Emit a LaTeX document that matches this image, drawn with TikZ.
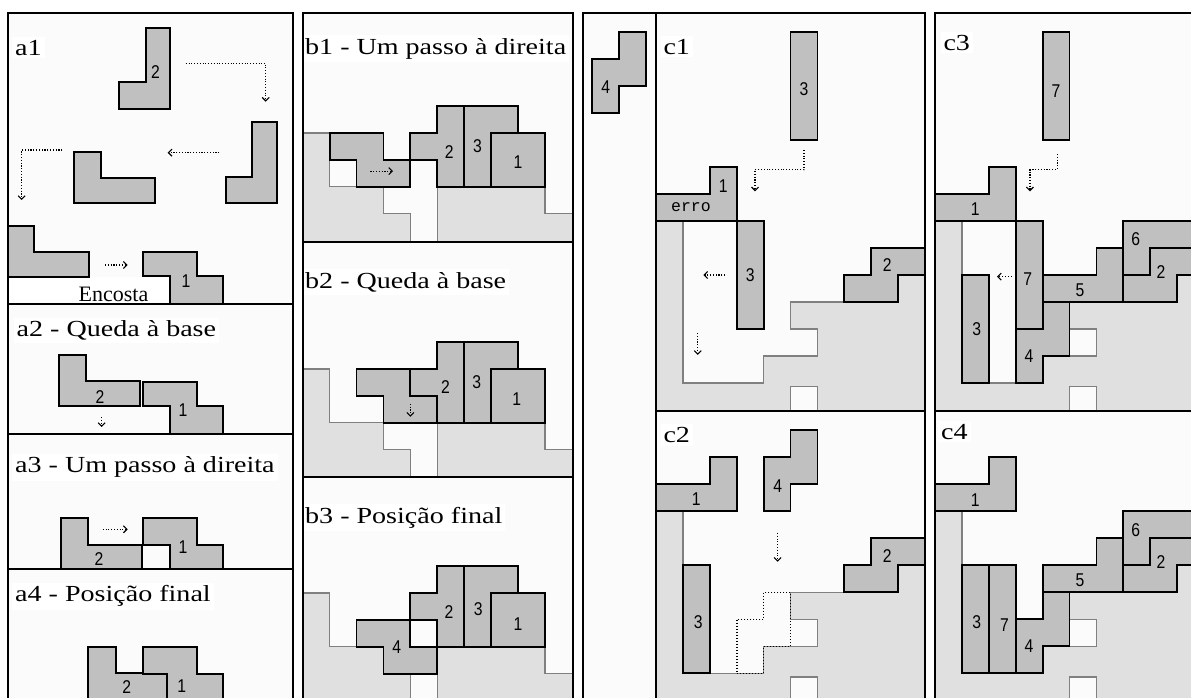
\documentclass[tikz,border=0pt]{standalone}
\usepackage{fontspec}
\setmainfont{Liberation Serif}[FakeStretch=1.22]
\newfontfamily\numfont{Liberation Sans}[FakeStretch=0.85]
\newfontfamily\encfont{Liberation Serif}
\newfontfamily\errofont{Liberation Mono}
\usepackage{tikz}
\usetikzlibrary{arrows.meta}
\definecolor{tilegray}{HTML}{C0C0C0}
\definecolor{groundgray}{HTML}{E0E0E0}
\definecolor{edgegray}{HTML}{808080}
\definecolor{paper}{HTML}{FBFBFB}

\begin{document}
\begin{tikzpicture}[x=1pt,y=-1pt,
  tile/.style={fill=tilegray,draw=black,line width=1.8pt},
  ground/.style={fill=groundgray,draw=edgegray,line width=1.4pt},
  hole/.style={fill=paper,draw=edgegray,line width=1.4pt},
  ghost/.style={draw=black,line width=1.6pt,dash pattern=on 1.4pt off 1.6pt},
  panelline/.style={draw=black,line width=1.8pt},
  trail/.style={draw=black,line width=1.1pt,dash pattern=on 1.1pt off 1.7pt,-{Straight Barb[length=3.5pt,width=7pt]}},
  num/.style={font=\numfont\fontsize{18.5}{18.5}\selectfont,inner sep=0pt},
  ptitle/.style={font=\fontsize{23}{26}\selectfont,fill=white,inner sep=3pt,anchor=base west}]
\useasboundingbox (0,0) rectangle (1191,697);
\clip (0,0) rectangle (1191,697);
\fill[white] (0,0) rectangle (1191,697);
\fill[paper] (8,13) rectangle (293,700);
\fill[paper] (302.7,13) rectangle (572.7,700);
\fill[paper] (583,13) rectangle (925,700);
\fill[paper] (935,13) rectangle (1200,700);

% a1 - rotations
\fill[white] (8,276.5) rectangle (170,304);
\node[font=\encfont\fontsize{22}{22}\selectfont,inner sep=0pt,anchor=base] (enc) at (113.5,301.5) {Encosta};
\path[tile] (145.7,28.3) -- (170,28.3) -- (170,109.3) -- (119,109.3) -- (119,81.7) -- (145.7,81.7) -- cycle;
\node[num] (a1n2) at (155.5,71.7) {2};
\path[tile] (251.7,122.3) -- (276.7,122.3) -- (276.7,203.3) -- (226,203.3) -- (226,176.7) -- (251.7,176.7) -- cycle;
\path[tile] (74,152.3) -- (100.7,152.3) -- (100.7,178.3) -- (155,178.3) -- (155,203.3) -- (74,203.3) -- cycle;
\path[tile] (8,225.7) -- (34.3,225.7) -- (34.3,251.7) -- (89.3,251.7) -- (89.3,276.7) -- (8,276.7) -- cycle;
\path[tile] (143.3,251.7) -- (197.3,251.7) -- (197.3,276) -- (222.7,276) -- (222.7,304) -- (170,304) -- (170,276) -- (143.3,276) -- cycle;
\node[num] (a1n1) at (186,281) {1};
\draw[trail] (185.7,63.3) -- (265.7,63.3) -- (265.7,101.7);
\draw[trail] (219.3,152.7) -- (167.7,152.7);
\draw[trail] (62.3,150) -- (21.7,150) -- (21.7,200);
\draw[trail] (105,265) -- (127.7,265);

% a2
\path[tile] (59,355) -- (86,355) -- (86,381) -- (140,381) -- (140,406) -- (59,406) -- cycle;
\node[num] (a2n2) at (100,397) {2};
\draw[trail] (101.7,417) -- (101.7,427);
\path[tile] (143.3,381.7) -- (197.3,381.7) -- (197.3,406) -- (222.7,406) -- (222.7,434) -- (170,434) -- (170,406) -- (143.3,406) -- cycle;
\node[num] (a2n1) at (183,410) {1};

% a3
\path[tile] (61,518.3) -- (87.7,518.3) -- (87.7,545) -- (141.7,545) -- (141.7,569) -- (61,569) -- cycle;
\node[num] (a3n2) at (99,559) {2};
\draw[trail] (102.7,529.3) -- (127.7,529.3);
\path[tile] (143.3,518.3) -- (197.3,518.3) -- (197.3,545) -- (222.7,545) -- (222.7,569) -- (170,569) -- (170,545) -- (143.3,545) -- cycle;
\node[num] (a3n1) at (183,546.7) {1};

% a4
\path[tile] (87.7,647.3) -- (116,647.3) -- (116,673.3) -- (166.7,673.3) -- (166.7,705) -- (87.7,705) -- cycle;
\node[num] (a4n2) at (126.7,687.5) {2};
\path[tile] (143.3,647.3) -- (197.3,647.3) -- (197.3,674) -- (222.7,674) -- (222.7,705) -- (166.7,705) -- (166.7,674) -- (143.3,674) -- cycle;
\node[num] (a4n1) at (181.7,686) {1};

% b1
\begin{scope}[shift={(302.7pt,-240.5pt)},x=26.9pt,y=26.9pt]
\clip (0,-0.06) rectangle (10.04,8.46);
\path[ground] (-0.5,-1) -- (-0.5,4) -- (1,4) -- (1,2) -- (3,2) -- (3,1) -- (4,1) -- (4,-1) -- cycle;
\path[ground] (5,-1) -- (5,2) -- (9,2) -- (9,1) -- (10.5,1) -- (10.5,-1) -- cycle;
\path[tile] (1,4) -- (3,4) -- (3,3) -- (4,3) -- (4,2) -- (2,2) -- (2,3) -- (1,3) -- cycle;
\path[tile] (5,2) -- (6,2) -- (6,5) -- (5,5) -- (5,4) -- (4,4) -- (4,3) -- (5,3) -- cycle;
\path[tile] (6,2) -- (7,2) -- (7,4) -- (8,4) -- (8,5) -- (6,5) -- cycle;
\path[tile] (7,2) rectangle (9,4);
\node[num] (b1n2) at (5.45,3.3) {2};
\node[num] (b1n3) at (6.5,3.5) {3};
\node[num] (b1n1) at (8,2.9) {1};
\draw[trail] (2.52,2.58) -- (3.36,2.58);
\end{scope}

% b2
\begin{scope}[shift={(302.7pt,-476.5pt)},x=26.9pt,y=26.9pt]
\clip (0,-0.02) rectangle (10.04,8.72);
\path[ground] (-0.5,-1) -- (-0.5,4) -- (1,4) -- (1,2) -- (3,2) -- (3,1) -- (4,1) -- (4,-1) -- cycle;
\path[ground] (5,-1) -- (5,2) -- (9,2) -- (9,1) -- (10.5,1) -- (10.5,-1) -- cycle;
\path[tile] (2,4) -- (4,4) -- (4,3) -- (5,3) -- (5,2) -- (3,2) -- (3,3) -- (2,3) -- cycle;
\path[tile] (5,2) -- (6,2) -- (6,5) -- (5,5) -- (5,4) -- (4,4) -- (4,3) -- (5,3) -- cycle;
\path[tile] (6,2) -- (7,2) -- (7,4) -- (8,4) -- (8,5) -- (6,5) -- cycle;
\path[tile] (7,2) rectangle (9,4);
\node[num] (b2n2) at (5.31,3.34) {2};
\node[num] (b2n3) at (6.47,3.5) {3};
\node[num] (b2n1) at (7.96,2.88) {1};
\draw[trail] (4,2.7) -- (4,2.22);
\end{scope}

% b3
\begin{scope}[shift={(302.7pt,-700.5pt)},x=26.9pt,y=26.9pt]
\clip (0,0.13) rectangle (10.04,8.3);
\path[ground] (-0.5,-1) -- (-0.5,4) -- (1,4) -- (1,2) -- (3,2) -- (3,1) -- (4,1) -- (4,-1) -- cycle;
\path[ground] (5,-1) -- (5,2) -- (9,2) -- (9,1) -- (10.5,1) -- (10.5,-1) -- cycle;
\path[tile] (2,3) -- (4,3) -- (4,2) -- (5,2) -- (5,1) -- (3,1) -- (3,2) -- (2,2) -- cycle;
\path[tile] (5,2) -- (6,2) -- (6,5) -- (5,5) -- (5,4) -- (4,4) -- (4,3) -- (5,3) -- cycle;
\path[tile] (6,2) -- (7,2) -- (7,4) -- (8,4) -- (8,5) -- (6,5) -- cycle;
\path[tile] (7,2) rectangle (9,4);
\node[num] (b3n4) at (3.5,2) {4};
\node[num] (b3n2) at (5.44,3.3) {2};
\node[num] (b3n3) at (6.53,3.39) {3};
\node[num] (b3n1) at (8,2.84) {1};
\end{scope}

% next piece
\path[tile] (619.2,32) -- (646.1,32) -- (646.1,86) -- (619.2,86) -- (619.2,113) -- (592.3,113) -- (592.3,59) -- (619.2,59) -- cycle;
\node[num] (s4) at (605.7,87) {4};

% c1
\begin{scope}[shift={(656pt,-410pt)},x=26.9pt,y=27pt]
\clip (0,0) rectangle (10,14.7);
\path[ground] (-0.5,-1) -- (-0.5,7) -- (1,7) -- (1,1) -- (4,1) -- (4,2) -- (6,2) -- (6,3) -- (5,3) -- (5,4) -- (9,4) -- (9,5) -- (10.5,5) -- (10.5,-1) -- cycle;
\path[hole] (5,-1) rectangle (6,0.87);
\path[tile] (5,10) rectangle (6,14);
\node[num] (c1n3a) at (5.5,11.9) {3};
\draw[trail] (5.5,9.63) -- (5.5,8.9) -- (3.68,8.9) -- (3.68,8.1);
\path[tile] (-0.5,7) -- (3,7) -- (3,9) -- (2,9) -- (2,8) -- (-0.5,8) -- cycle;
\node[num] (c1n1) at (2.5,8.3) {1};
\node[font=\errofont\fontsize{16.5}{16.5}\selectfont,inner sep=0pt] (c1err) at (1.3,7.5) {erro};
\path[tile] (3,3) rectangle (4,7);
\node[num] (c1n3b) at (3.5,5) {3};
\draw[trail] (2.57,5) -- (1.76,5);
\draw[trail] (1.55,2.85) -- (1.55,2.04);
\path[tile] (7,4) -- (9,4) -- (9,5) -- (10.5,5) -- (10.5,6) -- (8,6) -- (8,5) -- (7,5) -- cycle;
\node[num] (c1n2) at (8.6,5.37) {2};
\end{scope}

% c2
\begin{scope}[shift={(656pt,-700.3pt)},x=26.9pt,y=27pt]
\clip (0,0) rectangle (10,10.71);
\path[ground] (-0.5,-1) -- (-0.5,7) -- (1,7) -- (1,1) -- (4,1) -- (4,2) -- (6,2) -- (6,3) -- (5,3) -- (5,4) -- (9,4) -- (9,5) -- (10.5,5) -- (10.5,-1) -- cycle;
\path[hole] (5,-1) rectangle (6,0.87);
\path[tile] (-0.5,7) -- (3,7) -- (3,9) -- (2,9) -- (2,8) -- (-0.5,8) -- cycle;
\node[num] (c2n1) at (1.5,7.44) {1};
\path[tile] (4,7) -- (5,7) -- (5,8) -- (6,8) -- (6,10) -- (5,10) -- (5,9) -- (4,9) -- cycle;
\node[num] (c2n4) at (4.53,7.95) {4};
\draw[trail] (4.52,6.2) -- (4.52,5.13);
\path[tile] (7,4) -- (9,4) -- (9,5) -- (10.5,5) -- (10.5,6) -- (8,6) -- (8,5) -- (7,5) -- cycle;
\node[num] (c2n2) at (8.6,5.36) {2};
\path[tile] (1,1) rectangle (2,5);
\node[num] (c2n3) at (1.57,2.91) {3};
\path[ghost] (3,1) -- (4,1) -- (4,2) -- (5,2) -- (5,4) -- (4,4) -- (4,3) -- (3,3) -- cycle;
\end{scope}

% c3
\begin{scope}[shift={(935pt,-410pt)},x=26.9pt,y=27pt]
\clip (0,0) rectangle (10,14.7);
\path[ground] (-0.5,-1) -- (-0.5,7) -- (1,7) -- (1,1) -- (4,1) -- (4,2) -- (6,2) -- (6,3) -- (5,3) -- (5,4) -- (9,4) -- (9,5) -- (10.5,5) -- (10.5,-1) -- cycle;
\path[hole] (5,-1) rectangle (6,0.87);
\path[tile] (4,10) rectangle (5,14);
\node[num] (c3n7a) at (4.5,11.8) {7};
\draw[trail] (4.54,9.48) -- (4.54,8.9) -- (3.53,8.9) -- (3.53,8.1);
\path[tile] (-0.5,7) -- (3,7) -- (3,9) -- (2,9) -- (2,8) -- (-0.5,8) -- cycle;
\node[num] (c3n1) at (1.5,7.44) {1};
\path[tile] (3,3) rectangle (4,7);
\node[num] (c3n7b) at (3.45,4.85) {7};
\path[tile] (1,1) rectangle (2,5);
\node[num] (c3n3) at (1.55,2.99) {3};
\draw[trail] (2.85,4.94) -- (2.3,4.94);
\path[tile] (3,1) -- (4,1) -- (4,2) -- (5,2) -- (5,4) -- (4,4) -- (4,3) -- (3,3) -- cycle;
\node[num] (c3n4) at (3.49,2) {4};
\path[tile] (4,4) -- (7,4) -- (7,6) -- (6,6) -- (6,5) -- (4,5) -- cycle;
\node[num] (c3n5) at (5.39,4.44) {5};
\path[tile] (7,4) -- (9,4) -- (9,5) -- (10.5,5) -- (10.5,6) -- (8,6) -- (8,5) -- (7,5) -- cycle;
\node[num] (c3n2) at (8.4,5.12) {2};
\path[tile] (7,5) -- (8,5) -- (8,6) -- (10.5,6) -- (10.5,7) -- (7,7) -- cycle;
\node[num] (c3n6) at (7.46,6.32) {6};
\end{scope}

% c4
\begin{scope}[shift={(935pt,-700.3pt)},x=26.9pt,y=27pt]
\clip (0,0) rectangle (10,10.71);
\path[ground] (-0.5,-1) -- (-0.5,7) -- (1,7) -- (1,1) -- (4,1) -- (4,2) -- (6,2) -- (6,3) -- (5,3) -- (5,4) -- (9,4) -- (9,5) -- (10.5,5) -- (10.5,-1) -- cycle;
\path[hole] (5,-1) rectangle (6,0.87);
\path[tile] (-0.5,7) -- (3,7) -- (3,9) -- (2,9) -- (2,8) -- (-0.5,8) -- cycle;
\node[num] (c4n1) at (1.5,7.42) {1};
\path[tile] (1,1) rectangle (2,5);
\node[num] (c4n3) at (1.55,2.91) {3};
\path[tile] (2,1) rectangle (3,5);
\node[num] (c4n7) at (2.58,2.79) {7};
\path[tile] (3,1) -- (4,1) -- (4,2) -- (5,2) -- (5,4) -- (4,4) -- (4,3) -- (3,3) -- cycle;
\node[num] (c4n4) at (3.49,2.02) {4};
\path[tile] (4,4) -- (7,4) -- (7,6) -- (6,6) -- (6,5) -- (4,5) -- cycle;
\node[num] (c4n5) at (5.39,4.46) {5};
\path[tile] (7,4) -- (9,4) -- (9,5) -- (10.5,5) -- (10.5,6) -- (8,6) -- (8,5) -- (7,5) -- cycle;
\node[num] (c4n2) at (8.4,5.13) {2};
\path[tile] (7,5) -- (8,5) -- (8,6) -- (10.5,6) -- (10.5,7) -- (7,7) -- cycle;
\node[num] (c4n6) at (7.46,6.3) {6};
\end{scope}

% titles
\node[ptitle] (ta1) at (12,55) {a1};
\node[ptitle] (ta2) at (13.5,336.7) {a2 - Queda à base};
\node[ptitle] (ta3) at (12,472.7) {a3 - Um passo à direita};
\node[ptitle] (ta4) at (12,601.7) {a4 - Posição final};
\node[ptitle] (tb1) at (302,54) {b1 - Um passo à direita};
\node[ptitle] (tb2) at (302,288.3) {b2 - Queda à base};
\node[ptitle] (tb3) at (302,523.3) {b3 - Posição final};
\node[ptitle] (tc1) at (660.3,54) {c1};
\node[ptitle] (tc2) at (660.3,442.3) {c2};
\node[ptitle] (tc3) at (940.3,50) {c3};
\node[ptitle] (tc4) at (938,439) {c4};

% frames
\draw[panelline] (8,13) rectangle (293,700);
\draw[panelline] (8,304) -- (293,304);
\draw[panelline] (8,434) -- (293,434);
\draw[panelline] (8,569) -- (293,569);
\draw[panelline] (302.7,13) rectangle (572.7,700);
\draw[panelline] (302.7,242) -- (572.7,242);
\draw[panelline] (302.7,477) -- (572.7,477);
\draw[panelline] (583,13) rectangle (925,700);
\draw[panelline] (656,13) -- (656,700);
\draw[panelline] (656,411) -- (925,411);
\draw[panelline] (935,13) rectangle (1200,700);
\draw[panelline] (935,411) -- (1200,411);
\end{tikzpicture}
\end{document}
